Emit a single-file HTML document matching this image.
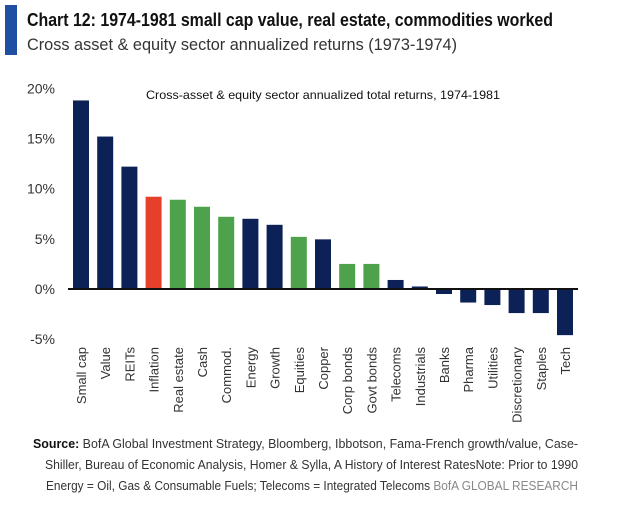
<!DOCTYPE html>
<html><head><meta charset="utf-8"><style>
html,body{margin:0;padding:0;background:#fff;}
svg{display:block;font-family:"Liberation Sans Narrow","Liberation Sans",sans-serif;}
</style></head><body>
<svg id="chart" width="624" height="505">
<rect x="5" y="5" width="12" height="50" fill="#1f4fa3"/>
<text x="27" y="26" font-size="18" font-weight="bold" fill="#111" textLength="526" lengthAdjust="spacingAndGlyphs">Chart 12: 1974-1981 small cap value, real estate, commodities worked</text>
<text x="27" y="50" font-size="17" fill="#333" textLength="430" lengthAdjust="spacingAndGlyphs">Cross asset &amp; equity sector annualized returns (1973-1974)</text>
<text x="146" y="99" font-size="12" fill="#111" textLength="354" lengthAdjust="spacingAndGlyphs">Cross-asset &amp; equity sector annualized total returns, 1974-1981</text>
<g id="yaxis"></g>
<g id="bars"></g>
<g id="xlabels"></g>
<line x1="68" y1="289" x2="578" y2="289" stroke="#111" stroke-width="2"/>
<text x="33" y="448" font-size="13" fill="#333" textLength="545" lengthAdjust="spacingAndGlyphs"><tspan font-weight="bold" fill="#111">Source:</tspan> BofA Global Investment Strategy, Bloomberg, Ibbotson,  Fama-French growth/value, Case-</text>
<text x="45" y="469" font-size="13" fill="#333" textLength="533" lengthAdjust="spacingAndGlyphs">Shiller, Bureau of Economic Analysis, Homer &amp; Sylla, A History of Interest RatesNote: Prior to 1990</text>
<text x="46" y="490" font-size="13" fill="#333" textLength="532" lengthAdjust="spacingAndGlyphs">Energy = Oil, Gas &amp; Consumable Fuels; Telecoms = Integrated Telecoms <tspan fill="#888">BofA GLOBAL RESEARCH</tspan></text>
</svg>
<script>
const categories=["Small cap","Value","REITs","Inflation","Real estate","Cash","Commod.","Energy","Growth","Equities","Copper","Corp bonds","Govt bonds","Telecoms","Industrials","Banks","Pharma","Utilities","Discretionary","Staples","Tech"];
const values=[18.8,15.2,12.2,9.2,8.9,8.2,7.2,7.0,6.4,5.2,4.95,2.5,2.5,0.9,0.25,-0.5,-1.35,-1.6,-2.4,-2.4,-4.6];
const groups=["n","n","n","r","g","g","g","n","n","g","n","g","g","n","n","n","n","n","n","n","n"];
const yTicks=[20,15,10,5,0,-5];
const colors={n:"#0c2257",g:"#4ea24c",r:"#e63f2a"};
const NS="http://www.w3.org/2000/svg";
function y(v){return 289-v*10.03;}
function x(i){return 81+i*24.2;}
const ya=document.getElementById('yaxis'),bg=document.getElementById('bars'),xl=document.getElementById('xlabels');
yTicks.forEach(t=>{const e=document.createElementNS(NS,'text');


e.setAttribute('x',55);e.setAttribute('y',y(t)+5);e.setAttribute('text-anchor','end');e.setAttribute('font-size','14');e.setAttribute('fill','#333');e.textContent=t+'%';ya.appendChild(e);});
categories.forEach((c,i)=>{const v=values[i];const r=document.createElementNS(NS,'rect');


r.setAttribute('x',x(i)-8);r.setAttribute('width',16);r.setAttribute('y',Math.min(y(v),y(0)));r.setAttribute('height',Math.abs(y(v)-y(0)));r.setAttribute('fill',colors[groups[i]]);bg.appendChild(r);
const t=document.createElementNS(NS,'text');


t.setAttribute('transform','translate('+(x(i)+5)+',347) rotate(-90)');t.setAttribute('text-anchor','end');t.setAttribute('font-size','13');t.setAttribute('fill','#333');t.textContent=c;xl.appendChild(t);});
</script>
</body></html>
